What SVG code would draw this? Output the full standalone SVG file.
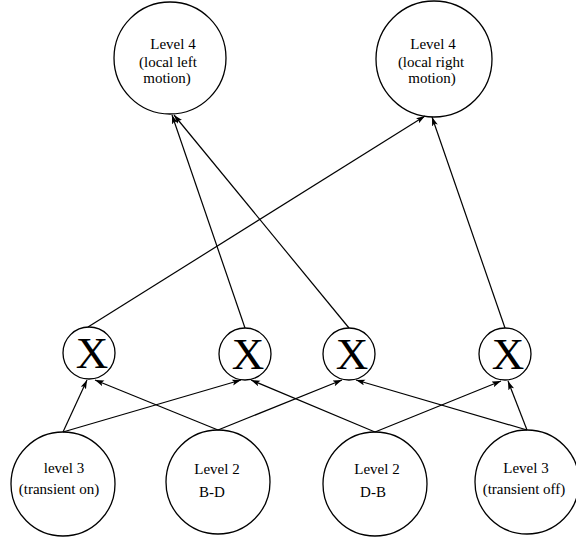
<svg xmlns="http://www.w3.org/2000/svg" width="576" height="537" viewBox="0 0 576 537">
<style>
.node circle{fill:none;stroke:#000;stroke-width:1.3}
.lbl{font-family:"Liberation Serif","Times New Roman",serif;font-size:15px;fill:#000;text-anchor:middle}
.x{font-family:"Liberation Serif","Times New Roman",serif;font-size:45px;fill:#000;text-anchor:middle}
#connectors line{stroke:#000;stroke-width:1.2;fill:none}
</style>
<defs>
<marker id="ah" markerUnits="userSpaceOnUse" markerWidth="10" markerHeight="7" refX="9" refY="3" orient="auto">
<path d="M0,0 L9,3 L0,6 L2,3 z" fill="#000"/>
</marker>
</defs>
<rect width="576" height="537" fill="#fff"/>
<g id="connectors">
<line x1="63" y1="432" x2="87" y2="380" marker-end="url(#ah)"/>
<line x1="63" y1="432" x2="241" y2="380" marker-end="url(#ah)"/>
<line x1="218" y1="430" x2="95" y2="380" marker-end="url(#ah)"/>
<line x1="218" y1="430" x2="342" y2="380" marker-end="url(#ah)"/>
<line x1="375" y1="432" x2="251" y2="380" marker-end="url(#ah)"/>
<line x1="375" y1="432" x2="501" y2="381" marker-end="url(#ah)"/>
<line x1="527" y1="430" x2="508" y2="381" marker-end="url(#ah)"/>
<line x1="527" y1="430" x2="356" y2="380" marker-end="url(#ah)"/>
<line x1="88" y1="327" x2="425" y2="116" marker-end="url(#ah)"/>
<line x1="245" y1="328" x2="172" y2="115" marker-end="url(#ah)"/>
<line x1="349" y1="328" x2="174" y2="115" marker-end="url(#ah)"/>
<line x1="505" y1="328" x2="432" y2="117" marker-end="url(#ah)"/>
</g>
<g id="l4left" class="node">
<circle cx="170" cy="58" r="56"/>
<text class="lbl" x="173" y="49">Level 4</text>
<text class="lbl" x="168" y="67">(local left</text>
<text class="lbl" x="167" y="83">motion)</text>
</g>
<g id="l4right" class="node">
<circle cx="434" cy="59" r="58"/>
<text class="lbl" x="433" y="49">Level 4</text>
<text class="lbl" x="431" y="67">(local right</text>
<text class="lbl" x="432" y="83">motion)</text>
</g>
<g id="x1" class="node">
<circle cx="89" cy="353" r="26"/>
<text class="x" x="92" y="368">X</text>
</g>
<g id="x2" class="node">
<circle cx="245" cy="354" r="26"/>
<text class="x" x="248" y="369">X</text>
</g>
<g id="x3" class="node">
<circle cx="349" cy="354" r="26"/>
<text class="x" x="352" y="369">X</text>
</g>
<g id="x4" class="node">
<circle cx="505" cy="354" r="26"/>
<text class="x" x="508" y="369">X</text>
</g>
<g id="l3on" class="node">
<circle cx="63" cy="484" r="52"/>
<text class="lbl" x="64" y="473">level 3</text>
<text class="lbl" x="59" y="494">(transient on)</text>
</g>
<g id="l2bd" class="node">
<circle cx="218" cy="482" r="52"/>
<text class="lbl" x="217" y="474">Level 2</text>
<text class="lbl" x="212" y="497">B-D</text>
</g>
<g id="l2db" class="node">
<circle cx="375" cy="484" r="52"/>
<text class="lbl" x="377" y="474">Level 2</text>
<text class="lbl" x="373" y="497">D-B</text>
</g>
<g id="l3off" class="node">
<circle cx="527" cy="482" r="52"/>
<text class="lbl" x="526" y="473">Level 3</text>
<text class="lbl" x="524" y="494">(transient off)</text>
</g>
</svg>
